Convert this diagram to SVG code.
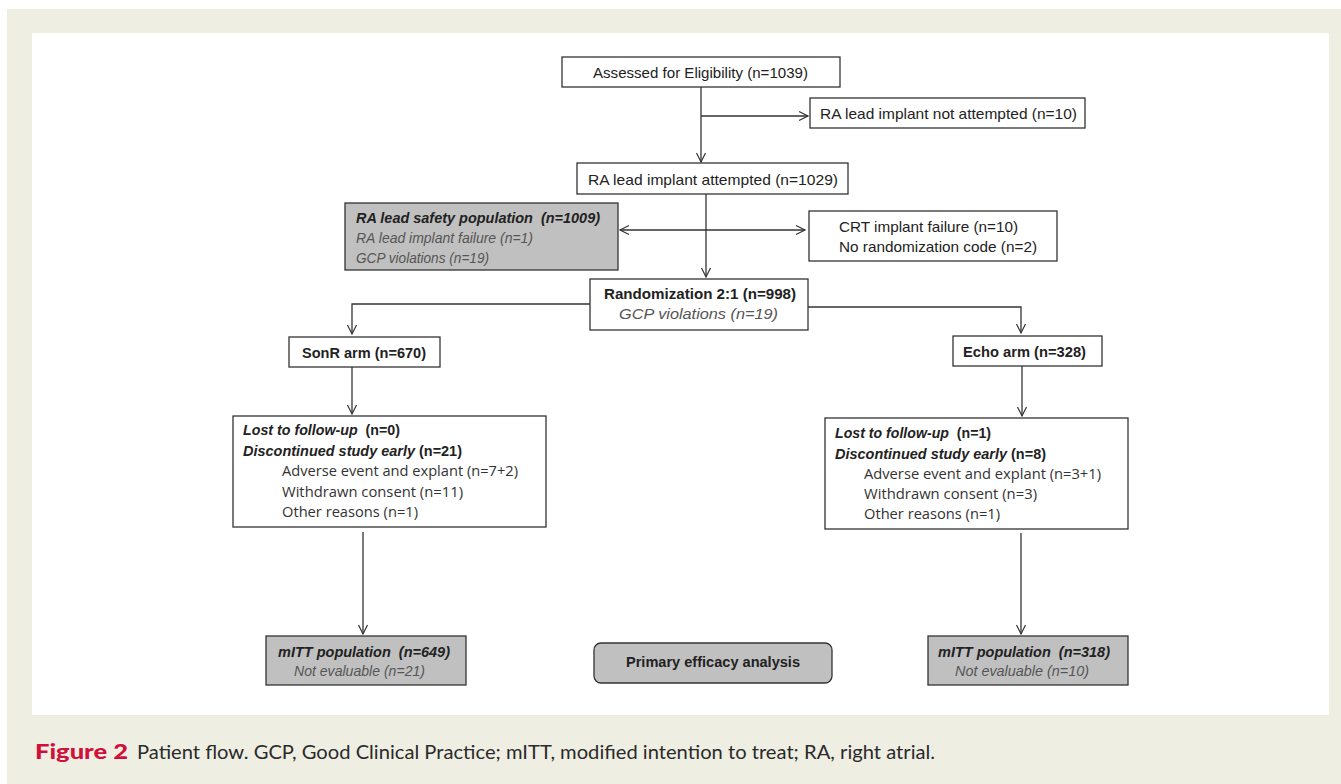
<svg xmlns="http://www.w3.org/2000/svg" width="1341" height="784" viewBox="0 0 1341 784">
<defs>
<marker id="arr" markerUnits="userSpaceOnUse" markerWidth="12" markerHeight="12" refX="10" refY="6" orient="auto-start-reverse">
<path d="M1,1.5 L10,6 L1,10.5" fill="none" stroke="#333" stroke-width="1.2"/>
</marker>
<style>
.box{fill:#fff;stroke:#333;stroke-width:1.3}
.grey{fill:#c0c0c0;stroke:#333;stroke-width:1.3}
.t{font-family:"Liberation Sans",Arial,sans-serif;font-size:15px;fill:#222}
.c{text-anchor:middle}
.b{font-weight:bold;font-size:14.5px}
.i{font-style:italic}
.g{fill:#555}
.s{font-size:14px}
.o{font-family:"Open Sans","Liberation Sans",sans-serif;font-size:14.5px;fill:#333}
.ln{fill:none;stroke:#333;stroke-width:1.3}
</style>
</defs>
<rect x="7" y="9" width="1334" height="775" fill="#efeee3"/>
<rect x="32" y="33" width="1297" height="682" fill="#fff"/>

<g id="connectors">
<path class="ln" d="M701,87 V162" marker-end="url(#arr)"/>
<path class="ln" d="M701,116 H808" marker-end="url(#arr)"/>
<path class="ln" d="M706,194 V277" marker-end="url(#arr)"/>
<path class="ln" d="M620,230 H805" marker-start="url(#arr)" marker-end="url(#arr)"/>
<path class="ln" d="M590,304 H352 V334" marker-end="url(#arr)"/>
<path class="ln" d="M808,307 H1021 V333" marker-end="url(#arr)"/>
<path class="ln" d="M352,367 V414" marker-end="url(#arr)"/>
<path class="ln" d="M1022,366 V416" marker-end="url(#arr)"/>
<path class="ln" d="M363,532 V634" marker-end="url(#arr)"/>
<path class="ln" d="M1021,533 V634" marker-end="url(#arr)"/>
</g>

<g id="assessed">
<rect class="box" x="562" y="57" width="278" height="30"/>
<text class="t" x="593" y="78" textLength="215" lengthAdjust="spacingAndGlyphs">Assessed for Eligibility (n=1039)</text>
</g>
<g id="not-attempted">
<rect class="box" x="810" y="98" width="275" height="30"/>
<text class="t" x="820" y="119" textLength="257" lengthAdjust="spacingAndGlyphs">RA lead implant not attempted (n=10)</text>
</g>
<g id="attempted">
<rect class="box" x="577" y="163" width="271" height="31"/>
<text class="t" x="588" y="185" textLength="250" lengthAdjust="spacingAndGlyphs">RA lead implant attempted (n=1029)</text>
</g>
<g id="safety">
<rect class="grey" x="345" y="203" width="273" height="67"/>
<text class="t b i" x="356" y="223" textLength="244" lengthAdjust="spacingAndGlyphs">RA lead safety population&#160; (n=1009)</text>
<text class="t i g s" x="356" y="243" textLength="177" lengthAdjust="spacingAndGlyphs">RA lead implant failure (n=1)</text>
<text class="t i g s" x="356" y="263" textLength="133" lengthAdjust="spacingAndGlyphs">GCP violations (n=19)</text>
</g>
<g id="crt">
<rect class="box" x="809" y="211" width="248" height="50"/>
<text class="t" x="839" y="232" textLength="179" lengthAdjust="spacingAndGlyphs">CRT implant failure (n=10)</text>
<text class="t" x="839" y="252" textLength="198" lengthAdjust="spacingAndGlyphs">No randomization code (n=2)</text>
</g>
<g id="randomization">
<rect class="box" x="590" y="279" width="218" height="51"/>
<text class="t b" x="604" y="299" textLength="192" lengthAdjust="spacingAndGlyphs">Randomization 2:1 (n=998)</text>
<text class="t i g" x="619" y="319" textLength="159" lengthAdjust="spacingAndGlyphs">GCP violations (n=19)</text>
</g>
<g id="sonr">
<rect class="box" x="289" y="337" width="151" height="30"/>
<text class="t b" x="302" y="358" textLength="124" lengthAdjust="spacingAndGlyphs">SonR arm (n=670)</text>
</g>
<g id="echo">
<rect class="box" x="953" y="336" width="149" height="30"/>
<text class="t b" x="963" y="357" textLength="123" lengthAdjust="spacingAndGlyphs">Echo arm (n=328)</text>
</g>
<g id="sonr-detail">
<rect class="box" x="233" y="416" width="313" height="111"/>
<text class="t b" x="243" y="435" textLength="157" lengthAdjust="spacingAndGlyphs"><tspan class="i">Lost to follow-up</tspan>&#160; (n=0)</text>
<text class="t b" x="243" y="456" textLength="219" lengthAdjust="spacingAndGlyphs"><tspan class="i">Discontinued study early</tspan> (n=21)</text>
<text class="o" x="282" y="476" textLength="236" lengthAdjust="spacingAndGlyphs">Adverse event and explant (n=7+2)</text>
<text class="o" x="282" y="497" textLength="181" lengthAdjust="spacingAndGlyphs">Withdrawn consent (n=11)</text>
<text class="o" x="282" y="517" textLength="136" lengthAdjust="spacingAndGlyphs">Other reasons (n=1)</text>
</g>
<g id="echo-detail">
<rect class="box" x="825" y="418" width="303" height="111"/>
<text class="t b" x="835" y="438" textLength="156" lengthAdjust="spacingAndGlyphs"><tspan class="i">Lost to follow-up</tspan>&#160; (n=1)</text>
<text class="t b" x="835" y="459" textLength="211" lengthAdjust="spacingAndGlyphs"><tspan class="i">Discontinued study early</tspan> (n=8)</text>
<text class="o" x="864" y="479" textLength="237" lengthAdjust="spacingAndGlyphs">Adverse event and explant (n=3+1)</text>
<text class="o" x="864" y="499" textLength="173" lengthAdjust="spacingAndGlyphs">Withdrawn consent (n=3)</text>
<text class="o" x="864" y="519" textLength="136" lengthAdjust="spacingAndGlyphs">Other reasons (n=1)</text>
</g>
<g id="mitt-sonr">
<rect class="grey" x="266" y="636" width="200" height="49"/>
<text class="t b i" x="278" y="657" textLength="172" lengthAdjust="spacingAndGlyphs">mITT population&#160; (n=649)</text>
<text class="t i g s" x="294" y="676" textLength="131" lengthAdjust="spacingAndGlyphs">Not evaluable (n=21)</text>
</g>
<g id="primary">
<rect class="grey" x="594" y="643" width="238" height="40" rx="7"/>
<text class="t b" x="626" y="667" textLength="174" lengthAdjust="spacingAndGlyphs">Primary efficacy analysis</text>
</g>
<g id="mitt-echo">
<rect class="grey" x="928" y="636" width="200" height="49"/>
<text class="t b i" x="938" y="657" textLength="172" lengthAdjust="spacingAndGlyphs">mITT population&#160; (n=318)</text>
<text class="t i g s" x="955" y="676" textLength="134" lengthAdjust="spacingAndGlyphs">Not evaluable (n=10)</text>
</g>

<g id="caption">
<text x="35" y="759" font-family="Lato,'Open Sans',sans-serif" font-size="21" font-weight="900" fill="#d0103a" textLength="93" lengthAdjust="spacingAndGlyphs">Figure 2</text>
<text x="137" y="759" font-family="Lato,'Open Sans',sans-serif" font-size="19" fill="#2a2a2a" textLength="798" lengthAdjust="spacingAndGlyphs">Patient flow. GCP, Good Clinical Practice; mITT, modified intention to treat; RA, right atrial.</text>
</g>
</svg>
